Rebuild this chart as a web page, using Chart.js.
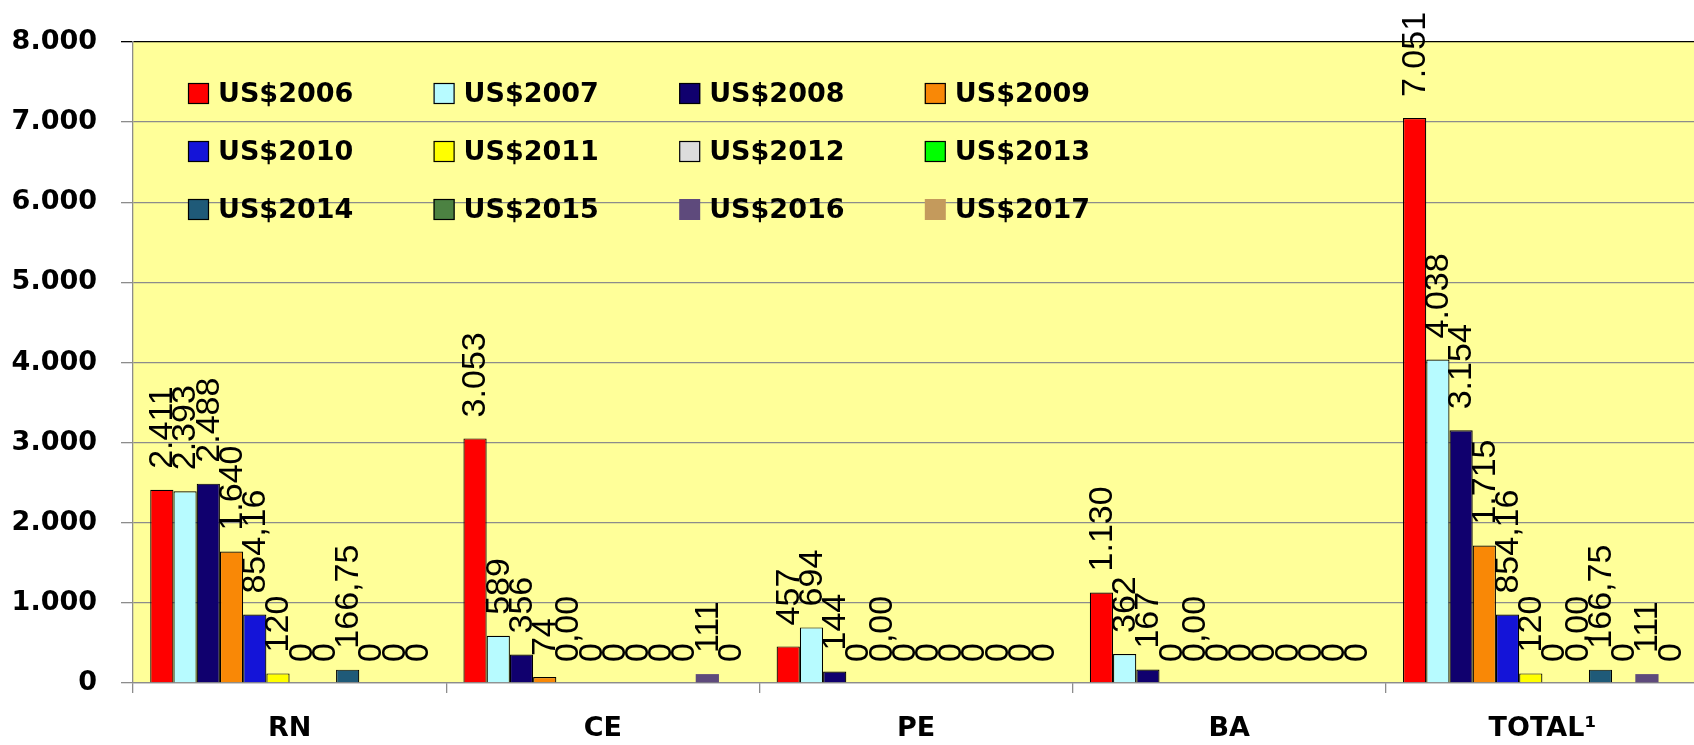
<!DOCTYPE html>
<html>
<head>
<meta charset="utf-8">
<script src="https://cdn.jsdelivr.net/npm/chart.js@4.4.1/dist/chart.umd.min.js"></script>
<style>
  html, body { margin: 0; padding: 0; background: #fff; overflow: hidden; }
  #wrap { width: 1700px; height: 745px; }
</style>
</head>
<body>
<div id="wrap"><canvas id="chart" width="1700" height="745"></canvas></div>
<script>
'use strict';

// categorias e séries
const categories = ['RN', 'CE', 'PE', 'BA', 'TOTAL\u00B9'];
const seriesNames = ['US$2006', 'US$2007', 'US$2008', 'US$2009', 'US$2010', 'US$2011',
                     'US$2012', 'US$2013', 'US$2014', 'US$2015', 'US$2016', 'US$2017'];
const us2006 = [2411, 3053, 457, 1130, 7051];
const us2007 = [2393, 589, 694, 362, 4038];
const us2008 = [2488, 356, 144, 167, 3154];
const us2009 = [1640, 74, 0, 0, 1715];
const us2010 = [854.16, 0, 0, 0, 854.16];
const us2011 = [120, 0, 0, 0, 120];
const us2012 = [0, 0, 0, 0, 0];
const us2013 = [0, 0, 0, 0, 0];
const us2014 = [166.75, 0, 0, 0, 166.75];
const us2015 = [0, 0, 0, 0, 0];
const us2016 = [0, 111, 0, 0, 111];
const us2017 = [0, 0, 0, 0, 0];
// zeros que aparecem como "0,00" no rótulo: [série, categoria]
const zeroDecimals = [[4, 1], [4, 2], [4, 3], [7, 4]];
const yTicks = [0, 1000, 2000, 3000, 4000, 5000, 6000, 7000, 8000];

const COLORS = ['#FF0000', '#B7FBFF', '#10006E', '#F98806', '#1414D8', '#FFFF00',
                '#DCDCDC', '#00FF00', '#1F5A78', '#4C8242', '#5E4A7C', '#C49A5C'];
const BORDERED = [true, true, true, true, true, true, true, true, true, true, false, false];
const allSeries = [us2006, us2007, us2008, us2009, us2010, us2011,
                   us2012, us2013, us2014, us2015, us2016, us2017];

function fmtThousands(n) {
  return String(Math.round(n)).replace(/\B(?=(\d{3})+(?!\d))/g, '.');
}

function fmtLabel(v, si, ci) {
  if (zeroDecimals.some(z => z[0] === si && z[1] === ci)) return '0,00';
  if (Math.round(v) !== v) return v.toFixed(2).replace('.', ',');
  return fmtThousands(v);
}

const plotBackground = {
  id: 'plotBackground',
  beforeDraw(chart) {
    const a = chart.chartArea;
    const ctx = chart.ctx;
    ctx.save();
    ctx.fillStyle = '#FFFF99';
    ctx.fillRect(a.left, a.top, a.right - a.left, a.bottom - a.top);
    ctx.restore();
  }
};

const valueLabels = {
  id: 'valueLabels',
  afterDatasetsDraw(chart) {
    const ctx = chart.ctx;
    ctx.save();
    ctx.font = '34px "Liberation Sans", Arial, sans-serif';
    ctx.fillStyle = '#000';
    ctx.textAlign = 'left';
    ctx.textBaseline = 'middle';
    chart.data.datasets.forEach((ds, si) => {
      const meta = chart.getDatasetMeta(si);
      meta.data.forEach((bar, ci) => {
        const txt = fmtLabel(ds.data[ci], si, ci);
        ctx.save();
        ctx.translate(bar.x + 1, bar.y - 21);
        ctx.rotate(-Math.PI / 2);
        ctx.fillText(txt, 0, 0);
        ctx.restore();
      });
    });
    ctx.restore();
  }
};

const gridLegend = {
  id: 'gridLegend',
  afterDatasetsDraw(chart) {
    const ctx = chart.ctx;
    ctx.save();
    ctx.font = 'bold 27px "DejaVu Sans", Verdana, sans-serif';
    ctx.textBaseline = 'middle';
    ctx.textAlign = 'left';
    seriesNames.forEach((name, i) => {
      const col = i % 4, row = Math.floor(i / 4);
      const x = 188 + col * 245.6;
      const y = 93.5 + row * 58;
      ctx.fillStyle = COLORS[i];
      ctx.fillRect(x, y - 10.5, 21, 21);
      if (BORDERED[i]) {
        ctx.strokeStyle = '#000';
        ctx.lineWidth = 1.2;
        ctx.strokeRect(x + 0.5, y - 10, 20, 20);
      }
      ctx.fillStyle = '#000';
      ctx.fillText(name, x + 30, y + 1);
    });
    ctx.restore();
  }
};

new Chart(document.getElementById('chart'), {
  type: 'bar',
  data: {
    labels: categories,
    datasets: allSeries.map((vals, i) => ({
      label: seriesNames[i],
      data: vals,
      backgroundColor: COLORS[i],
      borderColor: '#000',
      borderWidth: BORDERED[i] ? 1.2 : 0,
      categoryPercentage: 0.89,
      barPercentage: 1.0
    }))
  },
  options: {
    responsive: false,
    animation: false,
    layout: { padding: { top: 42, right: 1, left: 0, bottom: 0 } },
    plugins: {
      legend: { display: false },
      tooltip: { enabled: false }
    },
    scales: {
      x: {
        grid: { drawOnChartArea: false, drawTicks: true, tickLength: 10, color: '#8c8c8c', lineWidth: 1.3, offset: true },
        border: { color: '#8c8c8c', width: 1.3 },
        ticks: {
          color: '#000',
          padding: 20,
          font: { family: '"DejaVu Sans", Verdana, sans-serif', size: 27, weight: 'bold' }
        },
        afterFit(s) { s.height = 62; }
      },
      y: {
        min: 0,
        max: 8000,
        afterBuildTicks(s) { s.ticks = yTicks.map(v => ({ value: v })); },
        grid: {
          color: c => (c.tick && c.tick.value === 8000) ? '#000' : '#8c8c8c',
          lineWidth: 1.3,
          tickLength: 12
        },
        border: { color: '#8c8c8c', width: 1.3 },
        ticks: {
          color: '#000',
          padding: 24,
          font: { family: '"DejaVu Sans", Verdana, sans-serif', size: 27, weight: 'bold' },
          callback: v => fmtThousands(v)
        },
        afterFit(s) { s.width = 133; }
      }
    }
  },
  plugins: [plotBackground, valueLabels, gridLegend]
});
</script>
</body>
</html>
